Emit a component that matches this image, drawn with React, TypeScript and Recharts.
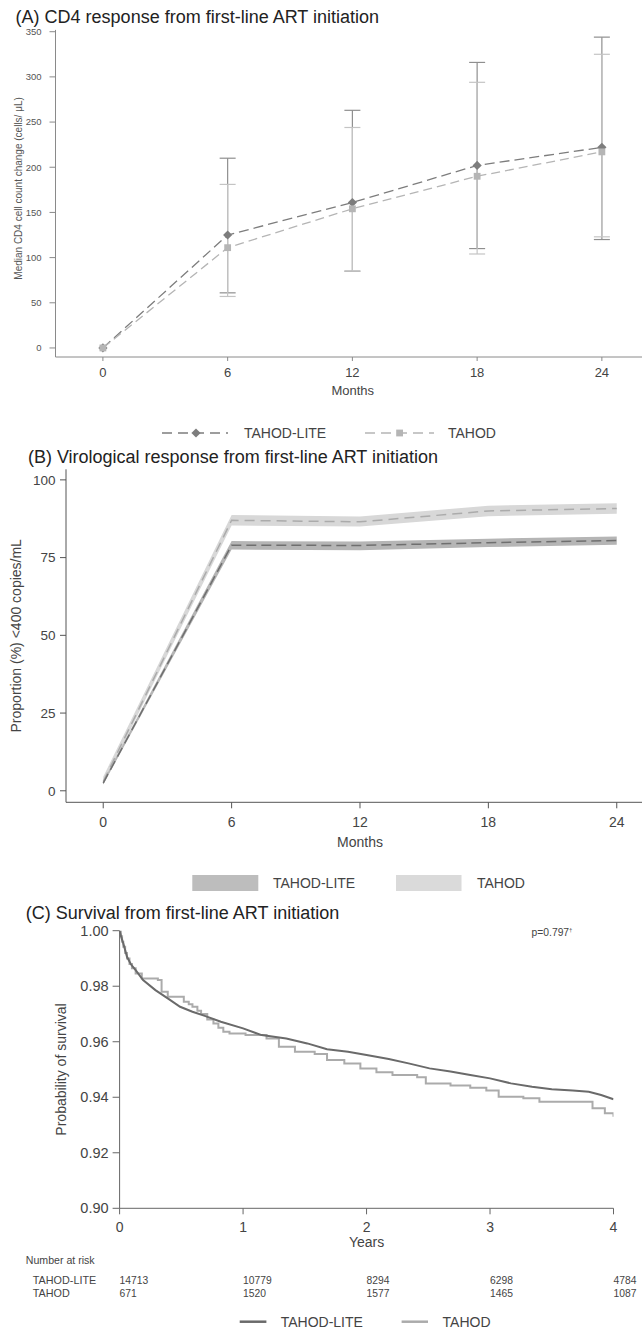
import React from "react";
import { ComposedChart, LineChart, Line, Area, XAxis, YAxis, ErrorBar } from "recharts";

const FONT = '"Liberation Sans", Arial, Helvetica, sans-serif';

// (A) CD4 response, median change with IQR
const cd4Months = [0, 6, 12, 18, 24];
const cd4Lite = [0, 125, 161, 202, 222];
const cd4LiteLow = [null, 61, 85, 110, 120];
const cd4LiteHigh = [null, 210, 263, 316, 344];
const cd4Tahod = [0, 111, 154, 190, 217];
const cd4TahodLow = [null, 57, 85, 104, 123];
const cd4TahodHigh = [null, 181, 244, 294, 325];
const cd4Ticks = [0, 50, 100, 150, 200, 250, 300, 350];

// (B) virological response, proportion <400 copies/mL with CI
const vlMonths = [0, 6, 12, 18, 24];
const vlLite = [2.5, 79, 78.9, 79.8, 80.5];
const vlLiteLow = [2, 77.6, 77.4, 78.4, 79.1];
const vlLiteHigh = [3.1, 80.3, 80.2, 81.1, 81.8];
const vlTahod = [3, 87, 86.5, 90, 90.8];
const vlTahodLow = [2, 85.3, 85, 88.3, 89.1];
const vlTahodHigh = [4.5, 88.7, 88.2, 91.7, 92.5];
const vlTicks = [0, 25, 50, 75, 100];

// (C) survival
const liteYears = [0, 0.015, 0.03, 0.06, 0.09, 0.13, 0.19, 0.29, 0.39, 0.49, 0.59, 0.69, 0.82, 1.0, 1.15, 1.35, 1.52, 1.68, 1.85, 2.0, 2.18, 2.34, 2.51, 2.68, 2.84, 3.0, 3.17, 3.34, 3.5, 3.67, 3.8, 3.9, 4.0];
const liteSurv = [1.0, 0.9975, 0.9954, 0.9906, 0.988, 0.9858, 0.9822, 0.9786, 0.9756, 0.9726, 0.9708, 0.9693, 0.9672, 0.9648, 0.9624, 0.9612, 0.9594, 0.9573, 0.9564, 0.9552, 0.9538, 0.9522, 0.9504, 0.9493, 0.948, 0.9468, 0.945, 0.9438, 0.9429, 0.9424, 0.942, 0.9408, 0.9393];
const tahodYears = [0, 0.01, 0.02, 0.03, 0.045, 0.06, 0.08, 0.1, 0.13, 0.18, 0.31, 0.34, 0.39, 0.49, 0.52, 0.56, 0.59, 0.63, 0.66, 0.71, 0.76, 0.8, 0.84, 0.89, 1.02, 1.19, 1.29, 1.42, 1.58, 1.68, 1.82, 1.95, 2.08, 2.21, 2.41, 2.48, 2.68, 2.84, 2.97, 3.07, 3.27, 3.4, 3.83, 3.93, 4.0];
const tahodSurv = [1.0, 0.998, 0.996, 0.9942, 0.992, 0.99, 0.988, 0.9865, 0.9846, 0.9828, 0.9822, 0.978, 0.9762, 0.9762, 0.9744, 0.9735, 0.9726, 0.9712, 0.97, 0.968, 0.9666, 0.965, 0.9636, 0.963, 0.9624, 0.9612, 0.9582, 0.9564, 0.9556, 0.9534, 0.9522, 0.9504, 0.949, 0.948, 0.9472, 0.945, 0.9442, 0.9434, 0.9424, 0.9402, 0.9396, 0.9384, 0.936, 0.9342, 0.933];
const survTicks = [0.9, 0.92, 0.94, 0.96, 0.98, 1.0];
const riskYears = [0, 1, 2, 3, 4];
const riskLite = [14713, 10779, 8294, 6298, 4784];
const riskTahod = [671, 1520, 1577, 1465, 1087];

const cd4Data = cd4Months.map((m, i) => ({
  month: m,
  lite: cd4Lite[i],
  tahod: cd4Tahod[i],
  liteErr: cd4LiteLow[i] == null ? null : [cd4Lite[i] - cd4LiteLow[i], cd4LiteHigh[i] - cd4Lite[i]],
  tahodErr: cd4TahodLow[i] == null ? null : [cd4Tahod[i] - cd4TahodLow[i], cd4TahodHigh[i] - cd4Tahod[i]],
}));

const vlData = vlMonths.map((m, i) => ({
  month: m,
  lite: vlLite[i],
  tahod: vlTahod[i],
  liteBand: [vlLiteLow[i], vlLiteHigh[i]],
  tahodBand: [vlTahodLow[i], vlTahodHigh[i]],
}));

const liteSurvData = liteYears.map((t, i) => ({ t, s: liteSurv[i] }));
const tahodSurvData = tahodYears.map((t, i) => ({ t, s: tahodSurv[i] }));

const Diamond = (p: any) => {
  const { cx, cy, index } = p;
  if (cx == null || cy == null) return <g key={`d${index}`} />;
  const r = 4.6;
  return <path key={`d${index}`} d={`M${cx},${cy - r}L${cx + r},${cy}L${cx},${cy + r}L${cx - r},${cy}Z`} fill="#7d7d7d" />;
};

const Square = (p: any) => {
  const { cx, cy, index } = p;
  if (cx == null || cy == null) return <g key={`s${index}`} />;
  return <rect key={`s${index}`} x={cx - 3.4} y={cy - 3.4} width={6.8} height={6.8} fill="#b5b5b5" />;
};

const RiskTick = (props: any) => {
  const { x, y, payload } = props;
  const i = riskYears.indexOf(payload.value);
  return (
    <g>
      <text x={x} y={y} dy="0.71em" textAnchor="middle" fontSize={14} fill="#444" fontFamily={FONT}>
        {payload.value}
      </text>
      <text x={x} y={y + 61.4} fontSize={10.3} fill="#444" fontFamily={FONT}>
        {riskLite[i]}
      </text>
      <text x={x} y={y + 74.7} fontSize={10.3} fill="#444" fontFamily={FONT}>
        {riskTahod[i]}
      </text>
    </g>
  );
};

function Overlay() {
  const t = { fontFamily: FONT };
  return (
    <svg width={642} height={1329} style={{ position: "absolute", left: 0, top: 0, pointerEvents: "none" }}>
      <g style={t} fill="#222" fontSize={18}>
        <text x={15.6} y={23.4}>(A) CD4 response from first-line ART initiation</text>
        <text x={27.9} y={463.1}>(B) Virological response from first-line ART initiation</text>
        <text x={25.8} y={919.1}>(C) Survival from first-line ART initiation</text>
      </g>

      {/* legend A */}
      <line x1={162} x2={228} y1={433} y2={433} stroke="#7d7d7d" strokeWidth={1.3} strokeDasharray="10 6" />
      <path d="M196,428.4L200.6,433L196,437.6L191.4,433Z" fill="#7d7d7d" />
      <text x={244} y={438} fontSize={14} fill="#444" style={t}>TAHOD-LITE</text>
      <line x1={365} x2={434} y1={433} y2={433} stroke="#b5b5b5" strokeWidth={1.3} strokeDasharray="10 6" />
      <rect x={396.2} y={429.6} width={6.8} height={6.8} fill="#b5b5b5" />
      <text x={448} y={438} fontSize={14} fill="#444" style={t}>TAHOD</text>

      {/* legend B */}
      <rect x={192.3} y={875} width={66} height={16} fill="#bdbdbd" />
      <text x={273} y={888} fontSize={14} fill="#444" style={t}>TAHOD-LITE</text>
      <rect x={396} y={875} width={65.5} height={16} fill="#dadada" />
      <text x={477} y={888} fontSize={14} fill="#444" style={t}>TAHOD</text>

      {/* p-value */}
      <text x={531.6} y={935.7} fontSize={10.3} fill="#444" style={t}>
        p=0.797<tspan fontSize={6} dy={-4}>†</tspan>
      </text>

      {/* number at risk labels */}
      <text x={25.8} y={1263.8} fontSize={10.6} fill="#444" style={t}>Number at risk</text>
      <text x={32.8} y={1283.8} fontSize={10.8} fill="#444" style={t}>TAHOD-LITE</text>
      <text x={32.8} y={1297.1} fontSize={10.8} fill="#444" style={t}>TAHOD</text>

      {/* legend C */}
      <line x1={239.7} x2={266.4} y1={1321.7} y2={1321.7} stroke="#6a6a6a" strokeWidth={2.5} />
      <text x={280.7} y={1326.7} fontSize={14} fill="#444" style={t}>TAHOD-LITE</text>
      <line x1={401.6} x2={428} y1={1321.7} y2={1321.7} stroke="#ababab" strokeWidth={2.5} />
      <text x={442.6} y={1326.7} fontSize={14} fill="#444" style={t}>TAHOD</text>
    </svg>
  );
}

export default function App() {
  return (
    <div style={{ position: "absolute", left: 0, top: 0, width: 642, height: 1329, background: "#fff", fontFamily: FONT }}>
      <div style={{ position: "absolute", left: 0, top: 0 }}>
        <ComposedChart width={642} height={410} data={cd4Data} margin={{ top: 29.9, right: 0, left: 0, bottom: 8 }}>
          <XAxis
            type="number"
            dataKey="month"
            domain={[-2.28, 25.93]}
            ticks={cd4Months}
            allowDataOverflow
            height={45}
            stroke="#8a8a8a"
            tickSize={4}
            tickMargin={7}
            tick={{ fontSize: 13, fill: "#444", fontFamily: FONT }}
            label={{ value: "Months", position: "insideTop", offset: 28.4, dx: 4, fontSize: 13, fill: "#444", fontFamily: FONT }}
          />
          <YAxis
            type="number"
            domain={[-10, 352]}
            ticks={cd4Ticks}
            allowDataOverflow
            width={55.5}
            stroke="#8a8a8a"
            tickSize={6}
            tickMargin={8}
            tick={{ fontSize: 9.5, fill: "#555", fontFamily: FONT }}
            label={{
              value: "Median CD4 cell count change (cells/ μL)",
              angle: -90,
              position: "insideLeft",
              offset: 18,
              dy: -5,
              fontSize: 10,
              fill: "#555",
              fontFamily: FONT,
              style: { textAnchor: "middle" },
            }}
          />
          <Line dataKey="lite" stroke="none" dot={false} activeDot={false} isAnimationActive={false}>
            <ErrorBar dataKey="liteErr" width={8} stroke="#8f8f8f" strokeWidth={1.2} direction="y" isAnimationActive={false} />
          </Line>
          <Line dataKey="tahod" stroke="none" dot={false} activeDot={false} isAnimationActive={false}>
            <ErrorBar dataKey="tahodErr" width={8} stroke="#c4c4c4" strokeWidth={1.2} direction="y" isAnimationActive={false} />
          </Line>
          <Line
            type="linear"
            dataKey="lite"
            stroke="#7d7d7d"
            strokeWidth={1.3}
            strokeDasharray="10 5"
            dot={Diamond}
            activeDot={false}
            isAnimationActive={false}
          />
          <Line
            type="linear"
            dataKey="tahod"
            stroke="#b5b5b5"
            strokeWidth={1.3}
            strokeDasharray="9 5"
            dot={Square}
            activeDot={false}
            isAnimationActive={false}
          />
        </ComposedChart>
      </div>

      <div style={{ position: "absolute", left: 0, top: 440 }}>
        <ComposedChart width={642} height={420} data={vlData} margin={{ top: 29.3, right: 0, left: 0, bottom: 7.7 }}>
          <XAxis
            type="number"
            dataKey="month"
            domain={[-1.74, 25.18]}
            ticks={vlMonths}
            allowDataOverflow
            height={50}
            stroke="#555"
            tickSize={6}
            tickMargin={8.4}
            tick={{ fontSize: 14, fill: "#444", fontFamily: FONT }}
            label={{ value: "Months", position: "insideTop", offset: 34.4, dx: 6, fontSize: 14, fill: "#444", fontFamily: FONT }}
          />
          <YAxis
            type="number"
            domain={[-3.7, 103.4]}
            ticks={vlTicks}
            allowDataOverflow
            width={66}
            stroke="#555"
            tickSize={6}
            tickMargin={4.5}
            tick={{ fontSize: 13.5, fill: "#444", fontFamily: FONT }}
            label={{
              value: "Proportion (%)  <400 copies/mL",
              angle: -90,
              position: "insideLeft",
              offset: 16.3,
              fontSize: 14,
              fill: "#444",
              fontFamily: FONT,
              style: { textAnchor: "middle", whiteSpace: "pre" },
            }}
          />
          <Area type="linear" dataKey="tahodBand" stroke="none" fill="#d8d8d8" fillOpacity={1} dot={false} activeDot={false} isAnimationActive={false} />
          <Area type="linear" dataKey="liteBand" stroke="none" fill="#b5b5b5" fillOpacity={1} dot={false} activeDot={false} isAnimationActive={false} />
          <Line type="linear" dataKey="tahod" stroke="#ababab" strokeWidth={1.5} strokeDasharray="10 6" dot={false} activeDot={false} isAnimationActive={false} />
          <Line type="linear" dataKey="lite" stroke="#6f6f6f" strokeWidth={1.5} strokeDasharray="10 5" dot={false} activeDot={false} isAnimationActive={false} />
        </ComposedChart>
      </div>

      <div style={{ position: "absolute", left: 0, top: 920 }}>
        <LineChart width={642} height={409} margin={{ top: 10.7, right: 28.5, left: 0, bottom: 20.7 }}>
          <XAxis
            type="number"
            dataKey="t"
            domain={[0, 4]}
            ticks={riskYears}
            allowDataOverflow
            height={100}
            stroke="#666"
            tickSize={6}
            tickMargin={8}
            tick={RiskTick}
            label={{ value: "Years", position: "insideTop", offset: 28.7, fontSize: 14, fill: "#444", fontFamily: FONT }}
          />
          <YAxis
            type="number"
            dataKey="s"
            domain={[0.9, 1.0]}
            ticks={survTicks}
            allowDataOverflow
            width={119.6}
            stroke="#666"
            tickSize={7}
            tickMargin={4}
            tickFormatter={(v: number) => v.toFixed(2)}
            tick={{ fontSize: 14.5, fill: "#444", fontFamily: FONT }}
            label={{
              value: "Probability of survival",
              angle: -90,
              position: "insideLeft",
              offset: 61.5,
              fontSize: 14,
              fill: "#444",
              fontFamily: FONT,
              style: { textAnchor: "middle" },
            }}
          />
          <Line data={tahodSurvData} type="stepAfter" dataKey="s" stroke="#ababab" strokeWidth={2} dot={false} activeDot={false} isAnimationActive={false} />
          <Line data={liteSurvData} type="linear" dataKey="s" stroke="#6a6a6a" strokeWidth={2} dot={false} activeDot={false} isAnimationActive={false} />
        </LineChart>
      </div>

      <Overlay />
    </div>
  );
}
